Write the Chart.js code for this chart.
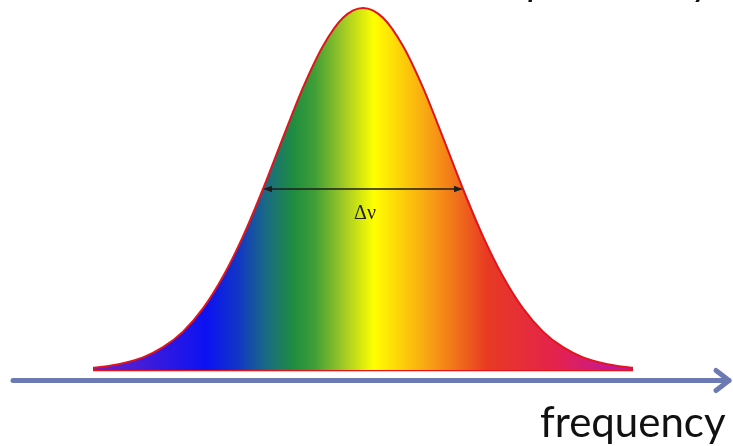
<!DOCTYPE html>
<html>
<head>
<meta charset="utf-8">
<script src="https://cdn.jsdelivr.net/npm/chart.js@4/dist/chart.umd.min.js"></script>
<style>
  html, body { margin: 0; padding: 0; background: #fff; }
  #wrap { width: 733px; height: 446px; position: relative; }
</style>
</head>
<body>
<div id="wrap"><canvas id="lineChart" width="733" height="446"></canvas></div>
<script>
// =============================
// DATA
// =============================
// frequency offset from line centre and relative intensity of the line profile
const freq = [-27, -26, -24, -22, -20, -18, -16, -14, -12, -10, -8, -6, -4, -2, 0,
              2, 4, 6, 8, 10, 12, 14, 16, 18, 20, 22, 24, 26, 27];
const intensity = [0.006, 0.009, 0.019, 0.035, 0.063, 0.106, 0.170, 0.258, 0.369, 0.500, 0.642, 0.780, 0.895, 0.973, 1.000,
                   0.973, 0.895, 0.780, 0.642, 0.500, 0.369, 0.258, 0.170, 0.106, 0.063, 0.035, 0.019, 0.009, 0.006];
// full width at half maximum
const fwhm = 20;
const widthLabel = 'Δν';
const axisLabel = 'frequency';

// =============================
// SPECTRUM FILL
// =============================
function spectrumFill(context) {
    const chart = context.chart;
    const area = chart.chartArea;
    if (!area) return '#0a10f2';
    const g = chart.ctx.createLinearGradient(area.left, 0, area.right, 0);
    g.addColorStop(0.00, '#6c22c8');
    g.addColorStop(0.21, '#0c12f2');
    g.addColorStop(0.27, '#1237c4');
    g.addColorStop(0.32, '#1a6a84');
    g.addColorStop(0.37, '#1e8c40');
    g.addColorStop(0.41, '#3f9e36');
    g.addColorStop(0.46, '#98c628');
    g.addColorStop(0.52, '#ffff00');
    g.addColorStop(0.62, '#f8a412');
    g.addColorStop(0.73, '#e83a22');
    g.addColorStop(0.86, '#e4224e');
    g.addColorStop(0.97, '#c2189a');
    g.addColorStop(1.00, '#c2189a');
    return g;
}

// =============================
// ANNOTATIONS (width arrow, axis arrow, labels)
// =============================
const annotations = {
    id: 'annotations',
    afterDraw(chart) {
        const ctx = chart.ctx;
        const xs = chart.scales.x, ys = chart.scales.y;
        ctx.save();

        // frequency axis with open arrow head
        const ay = ys.getPixelForValue(0) + 10.5;
        const tip = 729;
        ctx.strokeStyle = '#6b7ab2';
        ctx.lineWidth = 5;
        ctx.lineCap = 'round';
        ctx.lineJoin = 'round';
        ctx.beginPath();
        ctx.moveTo(13, ay);
        ctx.lineTo(tip, ay);
        ctx.stroke();
        ctx.beginPath();
        ctx.moveTo(tip - 13, ay - 10);
        ctx.lineTo(tip, ay);
        ctx.lineTo(tip - 13, ay + 10);
        ctx.stroke();

        // double arrow at half maximum
        const hy = ys.getPixelForValue(0.5);
        const x1 = xs.getPixelForValue(-fwhm / 2);
        const x2 = xs.getPixelForValue(fwhm / 2);
        ctx.strokeStyle = '#1e1e1e';
        ctx.fillStyle = '#1e1e1e';
        ctx.lineWidth = 1.3;
        ctx.lineCap = 'butt';
        ctx.beginPath();
        ctx.moveTo(x1 + 4, hy);
        ctx.lineTo(x2 - 4, hy);
        ctx.stroke();
        [[x1, 1], [x2, -1]].forEach(([x, dir]) => {
            ctx.beginPath();
            ctx.moveTo(x, hy);
            ctx.lineTo(x + dir * 9, hy - 3.2);
            ctx.lineTo(x + dir * 9, hy + 3.2);
            ctx.closePath();
            ctx.fill();
        });

        ctx.font = '20px "Liberation Serif", serif';
        ctx.textAlign = 'center';
        ctx.textBaseline = 'alphabetic';
        ctx.fillText(widthLabel, xs.getPixelForValue(0) + 2, hy + 30);

        // axis title
        ctx.fillStyle = '#111';
        ctx.textAlign = 'left';
        ctx.font = '42px Lato, "Open Sans", sans-serif';
        ctx.fillText(axisLabel, 540, 437);

        // heading running off the top edge
        ctx.font = 'italic 40px Lato, sans-serif';
        ctx.fillText('p', 528, -5);
        ctx.fillText('y', 693, -5);

        ctx.restore();
    }
};

// =============================
// LINE PROFILE CHART
// =============================
const ctx1 = document.getElementById('lineChart');
if (ctx1) {
    new Chart(ctx1, {
        type: 'line',
        data: {
            datasets: [
                {
                    label: 'profile',
                    data: freq.map((f, i) => ({ x: f, y: intensity[i] })),
                    fill: 'origin',
                    backgroundColor: spectrumFill,
                    borderColor: '#e3141b',
                    borderWidth: 2,
                    pointRadius: 0,
                    cubicInterpolationMode: 'monotone',
                    clip: false
                },
                {
                    label: 'baseline',
                    data: [{ x: freq[0], y: 0 }, { x: freq[freq.length - 1], y: 0 }],
                    fill: false,
                    borderColor: '#e3141b',
                    borderWidth: 2.5,
                    pointRadius: 0,
                    clip: false
                }
            ]
        },
        plugins: [annotations],
        options: {
            responsive: false,
            animation: false,
            devicePixelRatio: 1,
            layout: { padding: { left: 93, right: 100, top: 8, bottom: 76 } },
            scales: {
                x: { type: 'linear', min: -27, max: 27, display: false },
                y: { min: 0, max: 1, display: false }
            },
            plugins: {
                legend: { display: false },
                tooltip: { enabled: false }
            }
        }
    });
}
</script>
</body>
</html>
